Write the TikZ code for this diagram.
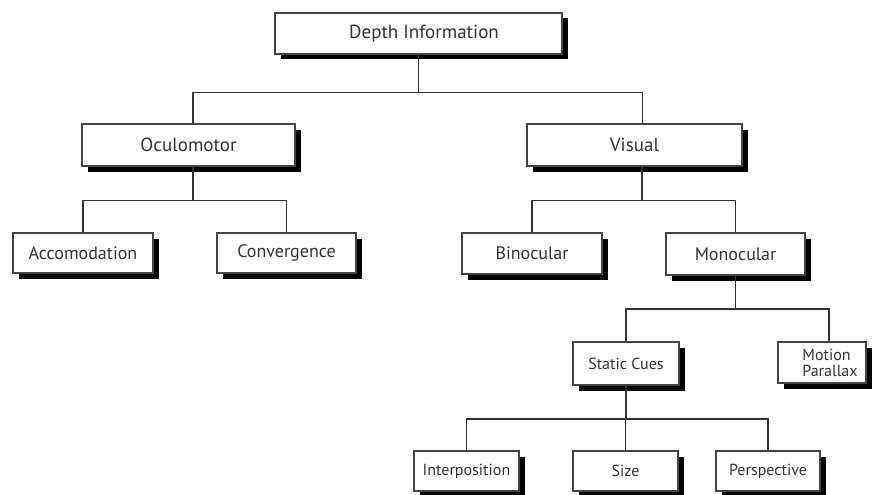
\documentclass[tikz,border=0pt]{standalone}
\usepackage{fontspec}
\setmainfont{PT Sans}
\usetikzlibrary{shadows}
\definecolor{ink}{HTML}{333333}
\definecolor{rim}{HTML}{444444}
\tikzset{
  box/.style={draw=rim, line width=1.2pt, fill=white, inner sep=0pt, text=ink,
    drop shadow={shadow xshift=5.5pt, shadow yshift=-5.5pt, opacity=1, fill=black}},
  lvlone/.style={box, font=\fontsize{19}{21}\selectfont},
  lvltwo/.style={box, font=\fontsize{18}{20}\selectfont},
  lvlthree/.style={box, font=\fontsize{16}{16}\selectfont},
  lbl/.style={text=ink, inner sep=0pt, align=left},
  link/.style={draw=ink, line width=1.4pt},
}
\begin{document}
\begin{tikzpicture}[x=1pt,y=-1pt]
\useasboundingbox (0,0) rectangle (876,495);

% bus heights
\coordinate (busA) at (0,92.5);
\coordinate (busB) at (0,200.5);
\coordinate (busC) at (0,309);
\coordinate (busD) at (0,419);

% boxes
\node[lvlone, minimum width=287pt, minimum height=41pt,
  label={[lbl, font=\fontsize{19}{21}\selectfont, xshift=5.5pt]center:Depth Information}]
  (depth) at (418.5,33.5) {};
\node[lvlone, minimum width=213pt, minimum height=42pt] (ocul) at (188.5,145) {Oculomotor};
\node[lvlone, minimum width=215pt, minimum height=42pt] (visual) at (634.5,145) {Visual};

\node[lvltwo, minimum width=140pt, minimum height=40pt] (acc) at (83,253) {Accomodation};
\node[lvltwo, minimum width=139pt, minimum height=40pt] (conv) at (286.5,253) {Convergence};
\node[lvltwo, minimum width=140pt, minimum height=41pt] (bino) at (532,253.5) {Binocular};
\node[lvltwo, minimum width=139pt, minimum height=42pt] (mono) at (735.5,254) {Monocular};

\node[lvlthree, minimum width=106pt, minimum height=43pt] (static) at (626,363.5) {Static Cues};
\node[lvlthree, minimum width=88pt, minimum height=41pt,
  label={[lbl, font=\fontsize{16}{16}\selectfont, xshift=8pt]center:Motion\\Parallax}]
  (motion) at (822,362.5) {};

\node[lvlthree, minimum width=105pt, minimum height=40pt] (interp) at (466.5,471) {Interposition};
\node[lvlthree, minimum width=105pt, minimum height=40pt] (size) at (625.5,471) {Size};
\node[lvlthree, minimum width=104pt, minimum height=40pt] (persp) at (768,471) {Perspective};

% connectors
\draw[link] (depth.south) -- (depth.south |- busA);
\draw[link] ([xshift=4.5pt]ocul.north) |- ([xshift=8pt]visual.north |- busA) -- ([xshift=8pt]visual.north);

\draw[link] ([xshift=4.5pt]ocul.south) -- ([xshift=4.5pt]ocul.south |- busB);
\draw[link] (acc.north) |- (conv.north |- busB) -- (conv.north);

\draw[link] ([xshift=7.5pt]visual.south) -- ([xshift=7.5pt]visual.south |- busB);
\draw[link] (bino.north) |- (mono.north |- busB) -- (mono.north);

\draw[link] (mono.south) -- (mono.south |- busC);
\draw[link] (static.north) |- ([xshift=7pt]motion.north |- busC) -- ([xshift=7pt]motion.north);

\draw[link] (static.south) -- (static.south |- busD);
\draw[link] (interp.north) |- (persp.north |- busD) -- (persp.north);
\draw[link] (size.north) -- (size.north |- busD);
\end{tikzpicture}
\end{document}
